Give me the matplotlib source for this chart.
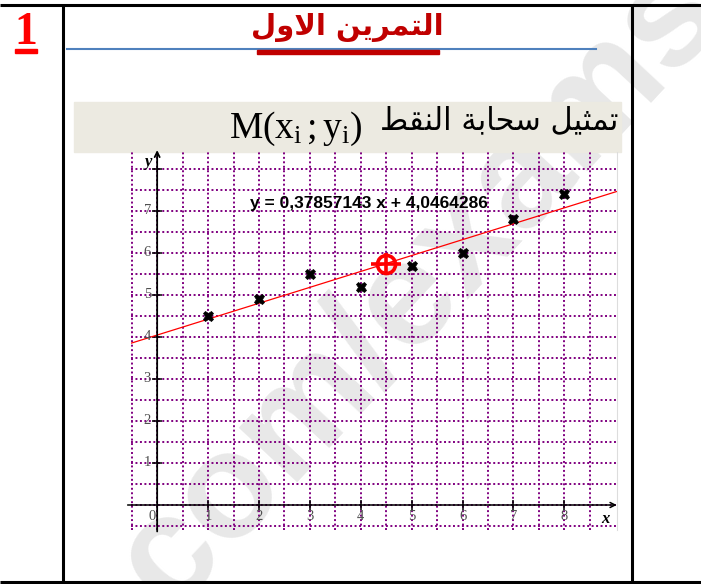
import matplotlib
matplotlib.use('Agg')
import matplotlib.pyplot as plt
from matplotlib.patches import Rectangle
import numpy as np

plt.rcParams['mathtext.fontset'] = 'custom'
plt.rcParams['mathtext.rm'] = 'Liberation Serif'
plt.rcParams['mathtext.it'] = 'Liberation Serif:italic'

# nuage de points
xs = [1, 2, 3, 4, 5, 6, 7, 8]
ys = [4.5, 4.9, 5.5, 5.2, 5.7, 6.0, 6.8, 7.4]
xtick_vals = [1, 2, 3, 4, 5, 6, 7, 8]
ytick_vals = [1, 2, 3, 4, 5, 6, 7, 8]
ylabel_vals = [1, 2, 3, 4, 5, 6, 7]

title_ar = 'التمرين الاول'
band_ar = 'تمثيل سحابة النقط'
band_math = r'$\mathrm{M(x_i\,;y_i)}$'

# formes contextuelles : isolée, finale, initiale, médiane
FORMS = {
    'ا': ('\uFE8D', '\uFE8E', None, None),
    'ب': ('\uFE8F', '\uFE90', '\uFE91', '\uFE92'),
    'ة': ('\uFE93', '\uFE94', None, None),
    'ت': ('\uFE95', '\uFE96', '\uFE97', '\uFE98'),
    'ث': ('\uFE99', '\uFE9A', '\uFE9B', '\uFE9C'),
    'ح': ('\uFEA1', '\uFEA2', '\uFEA3', '\uFEA4'),
    'ر': ('\uFEAD', '\uFEAE', None, None),
    'س': ('\uFEB1', '\uFEB2', '\uFEB3', '\uFEB4'),
    'ط': ('\uFEC1', '\uFEC2', '\uFEC3', '\uFEC4'),
    'ق': ('\uFED5', '\uFED6', '\uFED7', '\uFED8'),
    'ل': ('\uFEDD', '\uFEDE', '\uFEDF', '\uFEE0'),
    'م': ('\uFEE1', '\uFEE2', '\uFEE3', '\uFEE4'),
    'ن': ('\uFEE5', '\uFEE6', '\uFEE7', '\uFEE8'),
    'و': ('\uFEED', '\uFEEE', None, None),
    'ي': ('\uFEF1', '\uFEF2', '\uFEF3', '\uFEF4'),
    'لا': ('\uFEFB', '\uFEFC', None, None),
}


def shape(text):
    words = []
    for word in text.split(' '):
        letters, i = [], 0
        while i < len(word):
            if word[i:i + 2] == 'لا':  # ligature lam-alef
                letters.append('لا')
                i += 2
            else:
                letters.append(word[i])
                i += 1
        glyphs = []
        for k, ch in enumerate(letters):
            iso, fin, ini, med = FORMS[ch]
            prev_joins = k > 0 and FORMS[letters[k - 1]][2] is not None
            next_joins = k < len(letters) - 1 and ini is not None
            if prev_joins and next_joins:
                glyphs.append(med)
            elif prev_joins:
                glyphs.append(fin)
            elif next_joins:
                glyphs.append(ini)
            else:
                glyphs.append(iso)
        words.append(''.join(glyphs))
    return ' '.join(words)[::-1]


fig = plt.figure(figsize=(7.01, 5.84), dpi=100)

# page en pixels
page = fig.add_axes([0, 0, 1, 1])
page.set_xlim(0, 701)
page.set_ylim(584, 0)
page.axis('off')

page.text(420, 288, 'com/exams', rotation=47, rotation_mode='anchor',
          ha='center', va='center', fontsize=108, family='Liberation Sans',
          weight='bold', color='#e8e8e8', zorder=0)

for x in (63, 632):
    page.plot([x, x], [4, 582], color='k', lw=2.2, solid_capstyle='butt', zorder=3)
for y in (4.5, 581.5):
    page.plot([0, 701], [y, y], color='k', lw=2.2, solid_capstyle='butt', zorder=3)

page.text(26, 44, '1', ha='center', va='baseline', fontsize=33,
          family='Liberation Serif', weight='bold', color='#ff0000', zorder=3)
page.add_patch(Rectangle((15, 49), 22, 4, color='#ff0000', zorder=3))

page.plot([67, 596], [49.3, 49.3], color='#4f81bd', lw=1.5, zorder=3)
page.add_patch(Rectangle((257, 50), 182, 3.5, color='#c00000', zorder=3))
page.text(347, 35, shape(title_ar), ha='center', va='baseline', fontsize=21,
          family='DejaVu Sans', weight='bold', color='#c00000', zorder=3)

page.add_patch(Rectangle((74, 102), 547, 49.5, color='#ECEAE1', zorder=2))
page.text(618, 129, shape(band_ar), ha='right', va='baseline', fontsize=22,
          family='DejaVu Sans', color='k', zorder=3)
page.text(229, 138, band_math, ha='left', va='baseline', fontsize=27,
          color='k', zorder=3)

# repère
ax = fig.add_axes([130.7 / 701, 54 / 584, 486.3 / 701, 378 / 584])
ax.set_facecolor('none')
ax.set_xlim(-0.52, -0.52 + 487.3 / 51)
ax.set_ylim(-25 / 42, 353 / 42)
ax.set_xticks(np.arange(-0.5, 9.0, 0.5))
ax.set_yticks(np.arange(-0.5, 8.01, 0.5))
ax.grid(True, color='#800080', linestyle=(0, (1, 1.3)), linewidth=1.4)
ax.tick_params(length=0, labelbottom=False, labelleft=False)
for side in ('top', 'left', 'bottom'):
    ax.spines[side].set_visible(False)
ax.spines['right'].set_color('#dddddd')

ax.annotate('', xy=(9.03, 0), xytext=(-0.58, 0), annotation_clip=False,
            arrowprops=dict(arrowstyle='->', lw=1.1, color='k', mutation_scale=9,
                            shrinkA=0, shrinkB=0))
ax.annotate('', xy=(0, 8.45), xytext=(0, -0.63), annotation_clip=False,
            arrowprops=dict(arrowstyle='->', lw=1.3, color='k', mutation_scale=9,
                            shrinkA=0, shrinkB=0))
ax.plot(xtick_vals, np.zeros(len(xtick_vals)), '|', color='k', ms=7.5, mew=1.1)
ax.plot(np.zeros(len(ytick_vals)), ytick_vals, '_', color='k', ms=7.5, mew=1.1)

for v in xtick_vals:
    ax.text(v, -0.27, str(v), ha='center', va='center', fontsize=10.5,
            family='Liberation Serif', color='#505050')
ax.text(-0.1, -0.27, '0', ha='center', va='center', fontsize=10.5,
        family='Liberation Serif', color='#505050')
for v in ylabel_vals:
    ax.text(-0.12, v, str(v), ha='right', va='center', fontsize=10.5,
            family='Liberation Serif', color='#505050')
ax.text(-0.18, 8.17, 'y', ha='center', va='center', fontsize=12,
        family='Liberation Serif', style='italic', weight='bold')
ax.text(8.8, -0.33, 'x', ha='center', va='center', fontsize=12,
        family='Liberation Serif', style='italic', weight='bold')

# droite d'ajustement
slope, intercept = np.polyfit(xs, ys, 1)
lx = np.array(ax.get_xlim())
ax.plot(lx, slope * lx + intercept, color='#ff0000', lw=0.9)
eq = f'y = {slope:.8f} x + {intercept:.7f}'.replace('.', ',')
ax.text(1.82, 7.19, eq, ha='left', va='center', fontsize=12.5,
        family='Liberation Sans', weight='bold', color='k')

ax.plot(xs, ys, 'X', color='k', ms=7.5, mec='k', mew=0.5, zorder=4)

# point moyen
gx, gy = np.mean(xs), np.mean(ys)
ax.plot(gx, gy, 'o', ms=13, mfc='none', mec='#ff0000', mew=2.6, zorder=5)
ax.plot(gx, gy, '_', ms=21, mec='#ff0000', mew=2.6, zorder=5)
ax.plot(gx, gy, '|', ms=16, mec='#ff0000', mew=2.6, zorder=5)

fig.savefig('out.png', dpi=100)
